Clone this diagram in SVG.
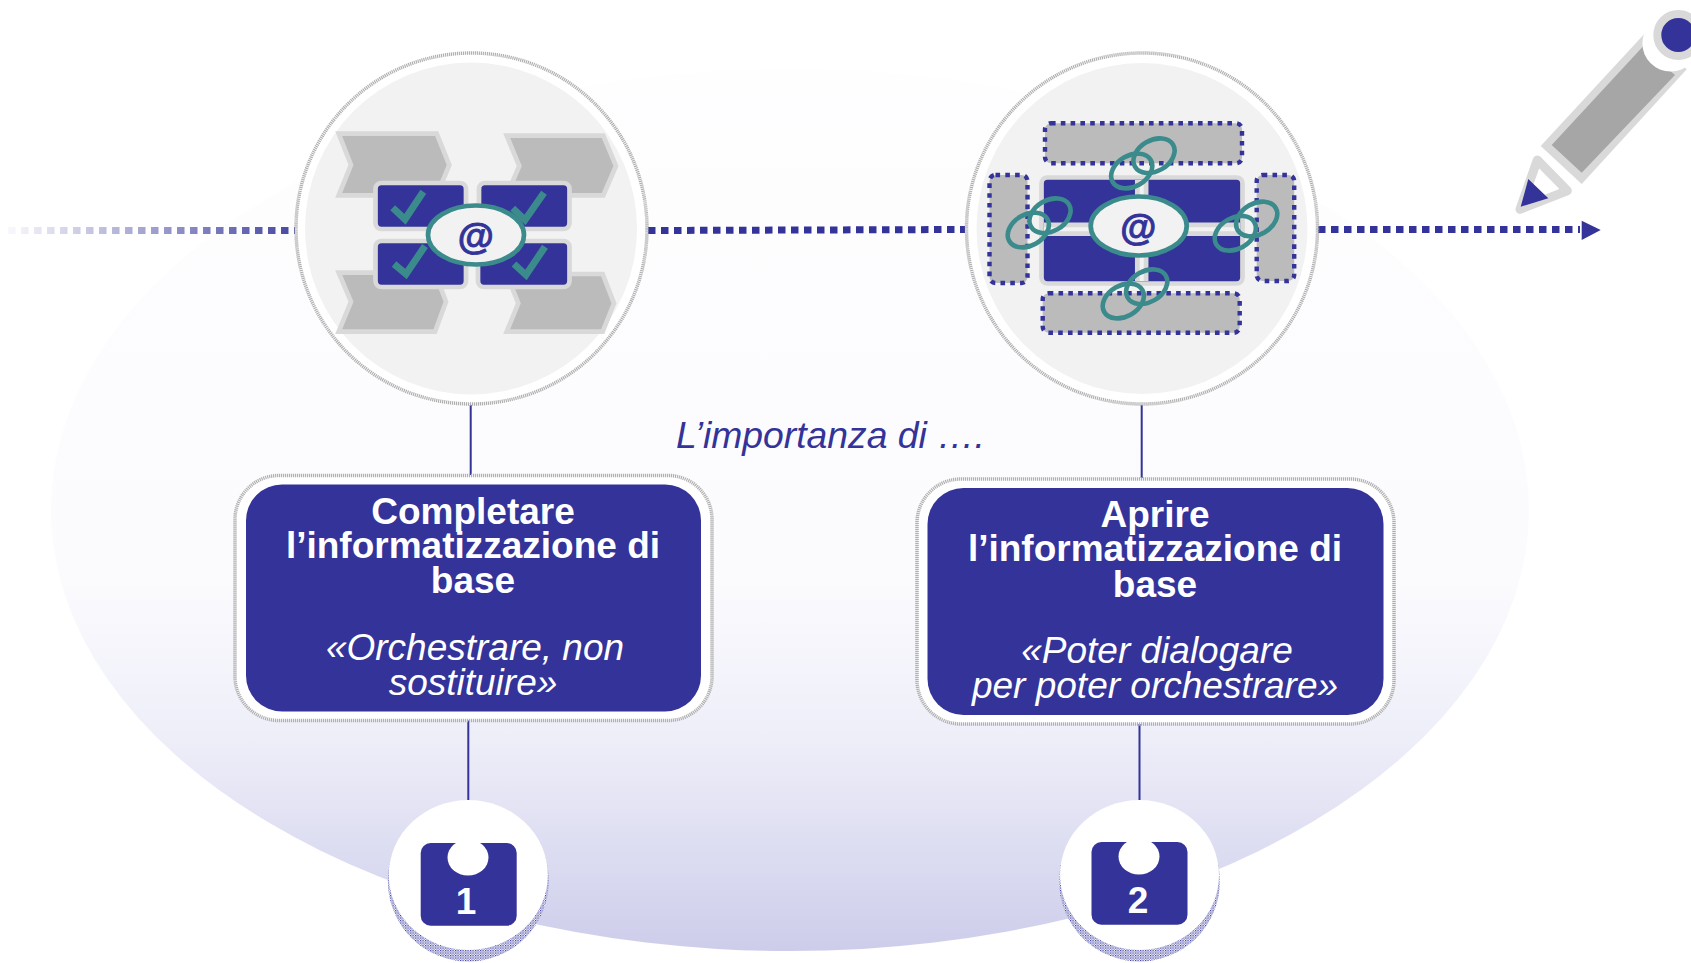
<svg xmlns="http://www.w3.org/2000/svg" width="1691" height="963" viewBox="0 0 1691 963">
<style>
text{font-family:"Liberation Sans",Arial,Helvetica,sans-serif}
.title{font-size:37px;font-weight:700;fill:#fff;text-anchor:middle}
.sub{font-size:37px;font-style:italic;fill:#fff;text-anchor:middle}
.ring{fill:#fff;stroke:#b0b0b0;stroke-width:3.5;stroke-dasharray:1.2 .8}
.disc{fill:#f2f2f2}
.chev{fill:#bbb;stroke:#d9d9d9;stroke-width:4.7;stroke-linejoin:miter}
.blk{fill:#333399;stroke:#d9d9d9;stroke-width:4.7}
.chk{fill:none;stroke:#3b8a8c;stroke-width:7}
.eye{fill:#f2f2f2;stroke:#3b8a8c;stroke-width:4.7}
.at{font-size:37px;font-weight:700;fill:#333399;stroke:#333399;stroke-width:.9;text-anchor:middle}
.dot{fill:#bbb;stroke:#333399;stroke-width:4.4;stroke-dasharray:4.6 5.2}
.lnk{fill:none;stroke:#3b8a8c;stroke-width:4.6}
.wire{fill:none;stroke:#333399;stroke-width:2}
.dash{fill:none;stroke:#333399;stroke-width:7;stroke-dasharray:7.5 5.5}
.badge{fill:#333399}
.num{font-size:37px;font-weight:700;fill:#fff;text-anchor:middle}
</style>
<defs>
<linearGradient id="bg" x1="0" y1="0" x2="0" y2="1">
<stop offset="0" stop-color="#fefeff"/>
<stop offset=".58" stop-color="#fbfbfe"/>
<stop offset=".76" stop-color="#eeeef9"/>
<stop offset="1" stop-color="#cdcdeb"/>
</linearGradient>
<linearGradient id="fade" gradientUnits="userSpaceOnUse" x1="8" y1="0" x2="295" y2="0">
<stop offset="0" stop-color="#333399" stop-opacity=".03"/>
<stop offset="1" stop-color="#333399" stop-opacity=".9"/>
</linearGradient>
<pattern id="grain" width="2.5" height="2.5" patternUnits="userSpaceOnUse">
<rect width="2.5" height="2.5" fill="#fff"/>
<rect width="1.2" height="1.2" fill="#333399"/>
<rect x="1.2" y="1.2" width="1.2" height="1.2" fill="#7a7ac0"/>
</pattern>
</defs>
<ellipse id="background" cx="790" cy="510" rx="739" ry="441" fill="url(#bg)"/>
<g id="connectors">
<path d="M8 230.5H295" fill="none" stroke="url(#fade)" stroke-width="7" stroke-dasharray="7.5 5.5"/>
<path class="dash" d="M648 230.5L965 229.5"/>
<path class="dash" d="M1318 229.5H1580"/>
<path d="M1581.7 220.7L1600.7 230L1581.7 240Z" fill="#333399"/>
<path class="wire" d="M470.7 405V475M468.3 720V800M1141.7 405V478M1139.5 724V800"/>
</g>
<g id="circle-1">
<circle class="ring" cx="471.5" cy="228.5" r="175.5"/>
<circle class="disc" cx="471" cy="228.5" r="166"/>
<path class="chev" d="M338.7 133.7H436.7L449.3 165L436.7 195.3H338.7L351 165Z"/>
<path class="chev" d="M506.7 135.7H603.3L616 166L603.3 195.3H506.7L519.3 166Z"/>
<path class="chev" d="M338.7 272.7H435L446 301.7L435 331.7H338.7L351 301.7Z"/>
<path class="chev" d="M506.7 274H602.7L614 303.3L602.7 331.7H506.7L518.3 303.3Z"/>
<rect class="blk" x="375.5" y="183" width="90.5" height="46" rx="6"/>
<rect class="blk" x="479" y="183" width="90.5" height="46" rx="6"/>
<rect class="blk" x="375.5" y="241" width="90.5" height="46" rx="6"/>
<rect class="blk" x="478" y="241" width="91.5" height="46" rx="6"/>
<path class="chk" d="M392.7 207.7L405 219.3L423.3 191.7"/>
<path class="chk" d="M512.7 208.3L525 220L544 192.7"/>
<path class="chk" d="M394 264L406 274L425 246"/>
<path class="chk" d="M514 264L526 275L545 246.7"/>
<ellipse class="eye" cx="476" cy="235" rx="48" ry="29.5"/>
<text class="at" x="475.7" y="248.5">@</text>
</g>
<g id="circle-2">
<circle class="ring" cx="1142" cy="228.5" r="175.5"/>
<circle class="disc" cx="1142" cy="228.5" r="165.5"/>
<rect class="dot" x="1045" y="123.3" width="197" height="40" rx="6"/>
<rect class="dot" x="1042.7" y="293.3" width="197" height="39.5" rx="6"/>
<rect class="dot" x="989.5" y="175" width="38" height="108" rx="6"/>
<rect class="dot" x="1256.7" y="175" width="37.5" height="106" rx="6"/>
<rect class="blk" x="1041.5" y="177.5" width="201" height="106" rx="6"/>
<path d="M1044 229.3H1240M1141.7 180V281" fill="none" stroke="#d9d9d9" stroke-width="13.5"/>
<path d="M1044 229.3H1240M1141.7 180V281" fill="none" stroke="#f2f2f2" stroke-width="4"/>
<ellipse class="eye" cx="1138.7" cy="226" rx="48" ry="29.5"/>
<text class="at" x="1138.3" y="239.5">@</text>
<g class="lnk">
<ellipse cx="1131.7" cy="171" rx="22" ry="15.5" transform="rotate(-30 1131.7 171)"/>
<ellipse cx="1154" cy="155.7" rx="22" ry="15.5" transform="rotate(-30 1154 155.7)"/>
<ellipse cx="1028.3" cy="230" rx="22" ry="15.5" transform="rotate(-30 1028.3 230)"/>
<ellipse cx="1050" cy="215.7" rx="22" ry="15.5" transform="rotate(-30 1050 215.7)"/>
<ellipse cx="1235.3" cy="233.3" rx="22" ry="15.5" transform="rotate(-30 1235.3 233.3)"/>
<ellipse cx="1256.7" cy="219" rx="22" ry="15.5" transform="rotate(-30 1256.7 219)"/>
<ellipse cx="1123.3" cy="301" rx="22" ry="15.5" transform="rotate(-30 1123.3 301)"/>
<ellipse cx="1146.7" cy="286.7" rx="22" ry="15.5" transform="rotate(-30 1146.7 286.7)"/>
</g>
</g>
<g id="pencil">
<path d="M1540.7 146L1645 33.3L1686.7 69.3L1581.7 184Z" fill="#d9d9d9"/>
<path d="M1551.7 145L1642.7 46.7L1675 75L1581.7 172.7Z" fill="#a6a6a6"/>
<circle cx="1670.7" cy="43.3" r="28.3" fill="#fff"/>
<circle cx="1678.3" cy="35" r="21" fill="#333399" stroke="#d9d9d9" stroke-width="8"/>
<path d="M1537.3 160L1567.3 190.7L1520 209.3Z" fill="#fff" stroke="#d9d9d9" stroke-width="9" stroke-linejoin="round"/>
<path d="M1528.3 179L1548.3 198.3L1520.7 206.7Z" fill="#333399"/>
</g>
<text id="caption" x="676" y="448" font-size="37.3" font-style="italic" fill="#333399">L’importanza di ….</text>
<g id="box-1">
<rect x="235" y="475.5" width="477" height="245" rx="44" fill="#fff" stroke="#b0b0b0" stroke-width="3.5" stroke-dasharray="1.2 .8"/>
<rect x="246" y="484.5" width="455" height="227" rx="36" fill="#333399"/>
<text class="title" x="473" y="524">Completare</text>
<text class="title" x="473" y="558">l’informatizzazione di</text>
<text class="title" x="473" y="593">base</text>
<text class="sub" x="475" y="660">«Orchestrare, non</text>
<text class="sub" x="473" y="695">sostituire»</text>
</g>
<g id="box-2">
<rect x="917" y="479" width="477" height="245" rx="44" fill="#fff" stroke="#b0b0b0" stroke-width="3.5" stroke-dasharray="1.2 .8"/>
<rect x="927.5" y="488" width="456" height="227" rx="36" fill="#333399"/>
<text class="title" x="1155" y="527">Aprire</text>
<text class="title" x="1155" y="561">l’informatizzazione di</text>
<text class="title" x="1155" y="597">base</text>
<text class="sub" x="1157" y="663">«Poter dialogare</text>
<text class="sub" x="1155" y="698">per poter orchestrare»</text>
</g>
<g id="badge-1">
<circle cx="468.3" cy="881" r="80.5" fill="url(#grain)"/>
<ellipse cx="468.3" cy="875" rx="79.5" ry="75" fill="#fff"/>
<rect class="badge" x="420.7" y="843" width="96" height="82.7" rx="10"/>
<ellipse cx="468" cy="857.5" rx="20.5" ry="18" fill="#fff"/>
<text class="num" x="466" y="914">1</text>
</g>
<g id="badge-2">
<circle cx="1139.5" cy="881" r="80.5" fill="url(#grain)"/>
<ellipse cx="1139.5" cy="875" rx="79.5" ry="75" fill="#fff"/>
<rect class="badge" x="1091.5" y="842" width="96" height="82.7" rx="10"/>
<ellipse cx="1139" cy="856.5" rx="20.5" ry="18" fill="#fff"/>
<text class="num" x="1138" y="913">2</text>
</g>
</svg>
